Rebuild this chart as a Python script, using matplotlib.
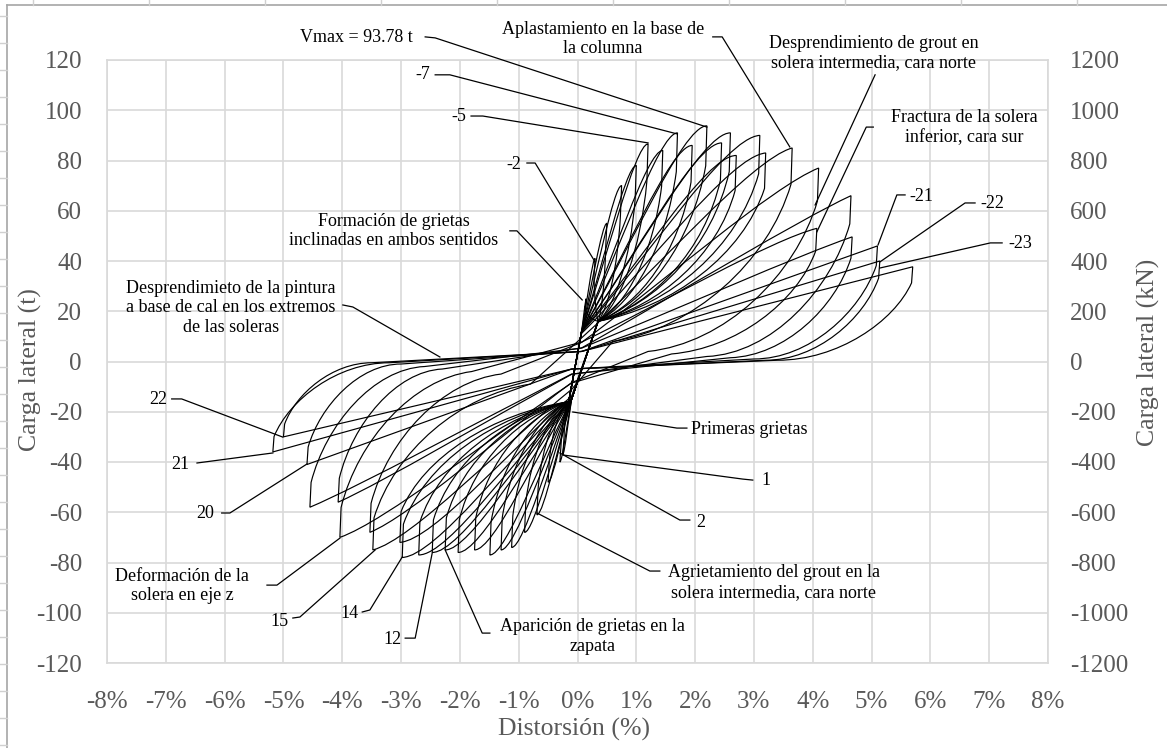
import numpy as np
import matplotlib
matplotlib.use("Agg")
import matplotlib.pyplot as plt
from matplotlib.path import Path
from matplotlib.patches import PathPatch
from matplotlib.lines import Line2D

plt.rcParams['font.family'] = ['Liberation Serif', 'DejaVu Serif']

# --- datos: picos de cada ciclo (distorsión %, carga t) ---
pos_peak_d = [0.15, 0.30, 0.50, 0.75, 1.00, 1.20, 1.45, 1.70, 1.95, 2.20, 2.45, 2.60,
              2.70, 3.10, 3.20, 3.65, 4.10, 4.07, 4.65, 4.67, 5.10, 5.14, 5.70]
pos_peak_t = [25, 41, 55, 70, 78, 86.6, 84, 91, 86, 93.8, 87, 91,
              82, 90, 83, 85, 77, 53, 66, 49.6, 46, 40, 37.7]
neg_peak_d = [-0.25, -0.30, -0.50, -0.69, -0.90, -1.12, -1.30, -1.49, -1.75, -2.03, -2.25, -2.47,
              -2.70, -2.98, -3.02, -3.48, -3.53, -4.04, -4.07, -4.55, -4.60, -5.18, -5.00]
neg_peak_t = [-37, -40, -48, -61, -68, -74, -75, -77, -75, -76, -75, -76,
              -77, -78, -72, -75, -68, -70, -56, -58, -41, -36, -30]
# punto donde la descarga llega a carga ~0
pos_zero_d = [0.35] * 15 + [0.6, 1.2, 1.6, 2.2, 2.6, 3.0, 3.2, 3.4]
pos_zero_t = [16] * 15 + [8, 4, 3, 2, 1.5, 1, 0.5, 0.5]
neg_zero_d = [-0.15] * 15 + [-0.8, -1.3, -1.8, -2.3, -2.6, -3.0, -3.2, -3.5]
neg_zero_t = [-16] * 15 + [-9, -5, -4, -3, -2, -1, -0.5, -0.5]

x_ticks = list(range(-8, 9))
y_ticks = list(range(-120, 121, 20))
y2_ticks = list(range(-1200, 1201, 200))

GRAY = '#595959'
GRID = '#d9d9d9'

fig = plt.figure(figsize=(11.67, 7.48), dpi=100)
ax = fig.add_axes([107 / 1167, 1 - 663 / 748, 941 / 1167, 603 / 748])


def branch(A, B, Z, C, s, verts, codes):
    # carga de A al pico B, caida, descarga hasta Z, deslizamiento hasta C
    dx, dy = B[0] - A[0], B[1] - A[1]
    verts += [(A[0] + 0.35 * dx, A[1] + 0.35 * dy), (B[0] - 0.2 * dx, B[1] - 0.2 * s * dy), B]
    codes += [Path.CURVE4] * 3
    V = (B[0] - 0.02 * np.sign(B[0]), B[1] * 0.83)
    verts.append(V)
    codes.append(Path.LINETO)
    ex, ey = V[0] - Z[0], V[1] - Z[1]
    verts += [(V[0] - 0.13 * ex, V[1] - 0.5 * ey),
              (Z[0] + 0.45 * ex, Z[1] + 0.12 * (1 - s) * ey), Z]
    codes += [Path.CURVE4] * 3
    verts.append(C)
    codes.append(Path.LINETO)


for i in range(len(pos_peak_d)):
    s = float(np.clip((pos_peak_d[i] - 3.0) / 2.0, 0, 1))
    U = (0.07, 12 - 8 * s)
    D = (-0.1, -15 + 12 * s)
    verts, codes = [U], [Path.MOVETO]
    branch(U, (pos_peak_d[i], pos_peak_t[i]), (pos_zero_d[i], pos_zero_t[i]), D, s, verts, codes)
    branch(D, (neg_peak_d[i], neg_peak_t[i]), (neg_zero_d[i], neg_zero_t[i]), U, s, verts, codes)
    ax.add_patch(PathPatch(Path(verts, codes), fill=False, edgecolor='black', lw=0.85, zorder=3))

ax.set_xlim(-8, 8)
ax.set_ylim(-120, 120)
ax.set_xticks(x_ticks)
ax.set_xticklabels([f"{v}%" for v in x_ticks])
ax.set_yticks(y_ticks)
ax.set_yticklabels([str(v) for v in y_ticks])
ax.grid(True, color=GRID, lw=1.2, zorder=0)
ax.set_axisbelow(True)
for sp in ax.spines.values():
    sp.set_color(GRID)
    sp.set_linewidth(1.2)
ax.tick_params(axis='x', length=0, pad=20, labelsize=18, labelcolor=GRAY)
ax.tick_params(axis='y', length=0, pad=18, labelsize=18, labelcolor=GRAY)

ax2 = ax.twinx()
ax2.set_ylim(-1200, 1200)
ax2.set_yticks(y2_ticks)
ax2.set_yticklabels([str(v) for v in y2_ticks])
ax2.tick_params(axis='y', length=0, pad=16, labelsize=18, labelcolor=GRAY)
for sp in ax2.spines.values():
    sp.set_visible(False)

fig.text(30 / 1167, 1 - 370 / 748, 'Carga lateral (t)', rotation=90, ha='center', va='center',
         fontsize=18.5, color=GRAY)
fig.text(1148 / 1167, 1 - 352 / 748, 'Carga lateral (kN)', rotation=90, ha='center', va='center',
         fontsize=18.5, color=GRAY)
fig.text(574 / 1167, 1 - 729 / 748, 'Distorsión (%)', ha='center', va='center',
         fontsize=18.5, color=GRAY)

# --- anotaciones: (texto, posición, alineación, línea guía) ---
notes = [
    ('Vmax = 93.78 t', (-4.72, 128.8), 'left', [(-2.59, 129.2), (-2.42, 128.8), (2.20, 93.3)]),
    ('Aplastamiento en la base de\nla columna', (0.43, 128.4), 'center',
     [(2.30, 129.2), (2.46, 129.2), (3.61, 85.4)]),
    ('Desprendimiento de grout en\nsolera intermedia, cara norte', (5.03, 122.8), 'center',
     [(5.06, 114.1), (4.04, 62.3)]),
    ('Fractura de la solera\ninferior, cara sur', (6.57, 93.2), 'center',
     [(5.03, 93.3), (4.91, 93.3), (4.07, 51.6)]),
    ('-21', (5.65, 65.8), 'left', [(5.57, 66.3), (5.43, 66.3), (5.11, 46.4)]),
    ('-22', (6.85, 62.7), 'left', [(6.76, 63.1), (6.59, 63.1), (5.14, 39.6)]),
    ('-23', (7.32, 46.8), 'left', [(7.22, 47.2), (7.02, 47.2), (5.14, 37.2)]),
    ('-7', (-2.50, 114.1), 'right', [(-2.42, 114.1), (-2.17, 114.1), (1.69, 90.6)]),
    ('-5', (-1.90, 97.5), 'right', [(-1.81, 97.7), (-1.61, 97.7), (1.20, 87.0)]),
    ('-2', (-0.95, 78.6), 'right', [(-0.86, 79.0), (-0.72, 79.0), (0.30, 39.6)]),
    ('Formación de grietas\ninclinadas en ambos sentidos', (-3.13, 52.0), 'center',
     [(-1.15, 52.0), (-1.03, 52.0), (0.08, 24.5)]),
    ('Desprendimieto de la pintura\na base de cal en los extremos\nde las soleras', (-5.89, 21.3), 'center',
     [(-3.99, 22.5), (-3.82, 21.7), (-2.34, 1.8)]),
    ('22', (-6.98, -15.3), 'right', [(-6.90, -14.9), (-6.73, -14.9), (-5.01, -30.1)]),
    ('21', (-6.60, -40.8), 'right', [(-6.47, -40.4), (-5.18, -36.4)]),
    ('20', (-6.18, -60.3), 'right', [(-6.05, -60.3), (-5.91, -60.3), (-4.60, -40.8)]),
    ('Deformación de la\nsolera en eje z', (-6.72, -89.4), 'center',
     [(-5.28, -89.0), (-5.11, -89.0), (-4.04, -70.3)]),
    ('15', (-4.92, -103.3), 'right', [(-4.84, -102.1), (-4.72, -101.7), (-3.44, -75.0)]),
    ('14', (-3.72, -100.1), 'right', [(-3.66, -99.7), (-3.53, -98.9), (-2.98, -77.8)]),
    ('12', (-3.00, -110.6), 'right', [(-2.93, -110.1), (-2.76, -110.1), (-2.47, -76.2)]),
    ('Aparición de grietas en la\nzapata', (0.25, -109.5), 'center',
     [(-1.49, -108.1), (-1.62, -108.1), (-2.25, -75.0)]),
    ('Agrietamiento del grout en la\nsolera intermedia, cara norte', (3.34, -88.0), 'center',
     [(1.40, -83.4), (1.23, -83.4), (-0.69, -60.3)]),
    ('Primeras grietas', (1.93, -27.1), 'left', [(1.86, -26.5), (1.69, -26.5), (-0.08, -20.1)]),
    ('1', (3.12, -47.4), 'left', [(2.98, -47.2), (2.81, -46.8), (-0.25, -37.2)]),
    ('2', (2.02, -63.9), 'left', [(1.91, -63.1), (1.74, -63.1), (-0.30, -36.4)]),
]
for txt, (tx, ty), ha, pts in notes:
    ax.text(tx, ty, txt, ha=ha, va='center', multialignment='center', fontsize=13,
            color='black', zorder=5, clip_on=False)
    xs, ys = zip(*pts)
    ax.plot(xs, ys, color='black', lw=0.9, zorder=4, clip_on=False)

# marco de la captura (celdas de la hoja)
fig.add_artist(Line2D([7 / 1167, 1], [1 - 5 / 748, 1 - 5 / 748], color='#a6a6a6', lw=1.2))
fig.add_artist(Line2D([7 / 1167, 7 / 1167], [0, 1 - 5 / 748], color='#a6a6a6', lw=1.2))
for xc in range(33, 1167, 116):
    fig.add_artist(Line2D([xc / 1167, xc / 1167], [1 - 5 / 748, 1], color='#d0d0d0', lw=1))
for yc in range(16, 748, 27):
    fig.add_artist(Line2D([0, 7 / 1167], [1 - yc / 748, 1 - yc / 748], color='#d0d0d0', lw=1))

fig.savefig('out.png', dpi=100)
